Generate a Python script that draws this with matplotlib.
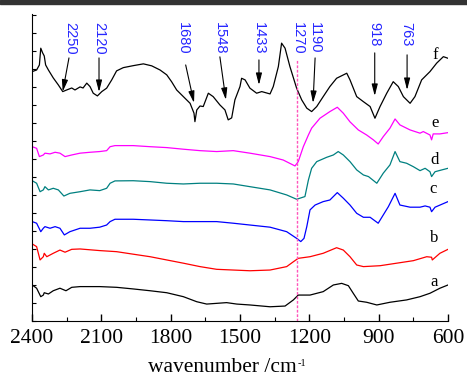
import matplotlib
matplotlib.use("Agg")
import matplotlib.pyplot as plt
from matplotlib.patches import Rectangle
from matplotlib.ticker import MultipleLocator, NullFormatter

# wavenumbers (cm-1) and offset absorbance for each spectrum
f_x = [2399, 2380, 2368, 2362, 2354, 2347, 2341, 2329, 2308, 2286, 2267, 2250,
       2228, 2214, 2192, 2179, 2163, 2149, 2135, 2117, 2098, 2077, 2055, 2034,
       2005, 1962, 1918, 1882, 1846, 1817, 1796, 1774, 1745, 1716, 1699, 1695,
       1687, 1673, 1659, 1637, 1616, 1587, 1565, 1551, 1536, 1522, 1500, 1493,
       1478, 1457, 1428, 1406, 1370, 1356, 1334, 1320, 1305, 1284, 1255, 1233,
       1211, 1190, 1168, 1140, 1111, 1082, 1038, 1024, 995, 966, 937, 916, 894,
       865, 837, 815, 793, 764, 743, 714, 678, 649, 620, 600]
f_y = [13.85, 13.94, 14.22, 15.15, 14.89, 14.72, 14.22, 13.94, 13.5, 13.11, 12.74,
       12.83, 12.94, 12.83, 13.0, 12.94, 13.21, 13.02, 12.65, 12.5, 12.74, 12.93,
       13.39, 13.89, 14.07, 14.18, 14.28, 14.17, 13.94, 13.67, 13.29, 12.83, 12.46,
       12.09, 11.54, 11.07, 11.72, 11.94, 11.91, 12.65, 12.46, 12.0, 11.72, 11.17,
       11.28, 12.28, 13.02, 13.48, 13.39, 12.93, 12.65, 12.74, 12.61, 13.02, 14.13,
       15.43, 15.15, 14.13, 12.93, 12.28, 11.82, 11.63, 11.91, 12.46, 13.02, 13.48,
       13.76, 13.39, 12.46, 12.18, 11.91, 11.26, 11.91, 12.65, 13.29, 13.02, 12.46,
       12.09, 12.46, 13.39, 13.85, 14.32, 14.68, 14.59]

e_x = [2399, 2380, 2368, 2351, 2344, 2322, 2300, 2279, 2257, 2228, 2192, 2149,
       2107, 2077, 2062, 2041, 1962, 1889, 1817, 1745, 1673, 1601, 1529, 1457,
       1370, 1313, 1262, 1248, 1226, 1204, 1190, 1154, 1111, 1079, 1053, 1024,
       988, 952, 923, 902, 880, 851, 829, 808, 764, 721, 707, 678, 671, 664, 635, 600]
e_y = [9.68, 9.59, 9.13, 9.22, 9.32, 9.28, 9.37, 9.32, 9.13, 9.22, 9.32, 9.37,
       9.41, 9.46, 9.68, 9.74, 9.74, 9.68, 9.63, 9.54, 9.46, 9.41, 9.46, 9.32,
       9.13, 8.94, 8.61, 8.85, 9.68, 10.33, 10.71, 11.26, 11.63, 11.87, 11.54, 11.06,
       10.61, 10.33, 10.06, 9.83, 10.24, 10.71, 11.22, 10.89, 10.61, 10.43, 10.52,
       10.33, 10.06, 10.39, 10.39, 10.46]

d_x = [2399, 2380, 2365, 2351, 2344, 2329, 2308, 2286, 2262, 2236, 2192, 2149,
       2107, 2077, 2062, 2041, 1962, 1889, 1817, 1745, 1673, 1601, 1529, 1457,
       1370, 1298, 1255, 1219, 1204, 1190, 1168, 1125, 1096, 1075, 1053, 1024,
       995, 966, 944, 908, 880, 851, 829, 808, 779, 750, 721, 699, 678, 671, 656, 627, 600]
d_y = [7.79, 7.65, 7.18, 7.28, 7.46, 7.28, 7.37, 7.28, 6.94, 7.09, 7.18, 7.28,
       7.24, 7.37, 7.65, 7.78, 7.79, 7.74, 7.65, 7.61, 7.65, 7.65, 7.61, 7.46,
       7.28, 7.0, 6.76, 6.91, 7.83, 8.48, 8.85, 9.09, 9.22, 9.41, 9.22, 8.85,
       8.39, 8.11, 8.02, 7.65, 8.21, 8.67, 9.41, 8.85, 8.76, 8.57, 8.35, 8.48,
       8.29, 8.02, 8.29, 8.39, 8.48]

c_x = [2399, 2380, 2362, 2351, 2344, 2322, 2300, 2279, 2260, 2236, 2192, 2149,
       2107, 2077, 2062, 2041, 1962, 1889, 1817, 1745, 1673, 1601, 1529, 1457,
       1370, 1298, 1255, 1237, 1223, 1211, 1197, 1175, 1140, 1111, 1079, 1053,
       1024, 995, 966, 937, 902, 880, 858, 829, 808, 764, 721, 699, 678, 671, 656, 600]
c_y = [5.52, 5.43, 4.96, 5.15, 5.24, 5.15, 5.24, 5.15, 4.78, 4.96, 5.15, 5.15,
       5.21, 5.33, 5.52, 5.65, 5.65, 5.61, 5.57, 5.52, 5.52, 5.52, 5.43, 5.33,
       5.21, 4.96, 4.59, 4.41, 4.59, 5.24, 6.17, 6.44, 6.63, 6.72, 7.13, 6.82,
       6.44, 5.98, 5.76, 5.76, 5.43, 5.89, 6.35, 7.09, 6.44, 6.32, 6.32, 6.39,
       6.32, 6.07, 6.32, 6.63]

b_x = [2399, 2380, 2365, 2351, 2347, 2336, 2308, 2279, 2257, 2228, 2192, 2107,
       2034, 1962, 1889, 1817, 1745, 1673, 1601, 1529, 1457, 1370, 1298, 1269,
       1248, 1197, 1140, 1082, 1053, 1024, 995, 966, 894, 822, 750, 692, 671,
       668, 635, 600]
b_y = [4.28, 4.13, 3.39, 3.57, 3.76, 3.57, 3.76, 3.94, 3.82, 3.98, 4.0, 3.91,
       3.85, 3.71, 3.57, 3.39, 3.21, 3.02, 2.87, 2.83, 2.79, 2.83, 3.02, 3.29,
       3.48, 3.57, 3.76, 4.07, 3.94, 3.57, 3.11, 3.02, 3.07, 3.21, 3.35, 3.57,
       3.54, 3.39, 3.76, 3.98]

a_x = [2399, 2380, 2362, 2351, 2347, 2329, 2308, 2279, 2253, 2228, 2192, 2107,
       2034, 1962, 1889, 1817, 1745, 1687, 1644, 1601, 1558, 1514, 1457, 1370,
       1305, 1269, 1248, 1197, 1140, 1096, 1060, 1031, 1010, 988, 952, 908, 851,
       779, 721, 678, 635, 600]
a_y = [2.0, 1.82, 1.35, 1.44, 1.57, 1.5, 1.68, 1.82, 1.68, 1.87, 1.91, 1.91,
       1.87, 1.78, 1.68, 1.57, 1.35, 1.07, 0.94, 0.98, 1.02, 0.94, 0.89, 0.79,
       0.83, 1.17, 1.44, 1.44, 1.63, 2.0, 2.09, 1.96, 1.54, 1.11, 1.04, 0.89,
       1.04, 1.17, 1.35, 1.54, 1.82, 2.0]

series = [
    (a_x, a_y, "black", "a", 660, 2.17),
    (b_x, b_y, "red", "b", 660, 4.61),
    (c_x, c_y, "blue", "c", 665, 7.33),
    (d_x, d_y, "#008080", "d", 660, 8.94),
    (e_x, e_y, "magenta", "e", 656, 11.0),
    (f_x, f_y, "black", "f", 656, 14.78),
]

# band labels: text, label x, arrow tail (x, y), arrow tip (x, y)
bands = [
    ("2250", 2236, (2240, 14.61), (2267, 12.74)),
    ("2120", 2109, (2110, 14.61), (2110, 12.72)),
    ("1680", 1745, (1735, 14.22), (1699, 12.11)),
    ("1548", 1587, (1587, 14.67), (1561, 12.28)),
    ("1433", 1418, (1418, 14.5), (1418, 13.11)),
    ("1270", 1248, None, None),
    ("1190", 1175, (1175, 14.61), (1184, 12.11)),
    ("918", 919, (917, 14.89), (917, 12.5)),
    ("763", 779, (777, 14.78), (777, 12.83)),
]
marker_line = 1255

serif = ["Liberation Serif", "DejaVu Serif"]

fig = plt.figure(figsize=(4.67, 3.81), dpi=100)
ax = fig.add_axes([0.0685, 0.1575, 0.8908, 0.8058])

for xs, ys, col, lab, lx, ly in series:
    ax.plot(xs, ys, color=col, lw=0.9)
    ax.text(lx, ly, lab, family=serif, fontsize=12, ha="center", va="center")

ax.plot([marker_line, marker_line], [0, 14.5], color="#FF55BB", lw=1.0,
        ls=(0, (2, 1.2)))

for txt, tx, tail, tip in bands:
    ax.text(tx, 16.6, txt, rotation=270, ha="center", va="top",
            color="#2626FF", family=["Liberation Sans", "DejaVu Sans"], fontsize=10.5)
    if tail is not None:
        ax.annotate("", xy=tip, xytext=tail,
                    arrowprops=dict(arrowstyle="-|>,head_length=0.7,head_width=0.18",
                                    color="black", lw=0.8, shrinkA=0, shrinkB=0))

ax.set_xlim(2400, 600)
ax.set_ylim(0, 17.05)
ax.xaxis.set_major_locator(MultipleLocator(300))
ax.xaxis.set_minor_locator(MultipleLocator(150))
ax.yaxis.set_major_locator(MultipleLocator(1))
ax.yaxis.set_major_formatter(NullFormatter())
ax.tick_params(axis="x", which="major", direction="in", length=5, width=1, pad=6)
ax.tick_params(axis="x", which="minor", direction="in", length=3, width=0.8)
ax.tick_params(axis="y", direction="in", length=3, width=0.8)
for lbl in ax.get_xticklabels():
    lbl.set_family(serif)
    lbl.set_fontsize(15.5)
ax.spines["top"].set_visible(False)
ax.spines["right"].set_visible(False)

# x label with a small superscript, as in the original
xl = fig.text(0.317, 0.024, "wavenumber /cm", family=serif, fontsize=15.5,
              ha="left", va="baseline")
ax.annotate("-1", xy=(1, 1), xycoords=xl, xytext=(0.5, -1),
            textcoords="offset points", ha="left", va="top",
            family=serif, fontsize=7.5)

fig.patches.append(Rectangle((0, 0.99), 1, 0.01, transform=fig.transFigure,
                             color="#333333", zorder=10))

fig.savefig("out.png", dpi=100)
